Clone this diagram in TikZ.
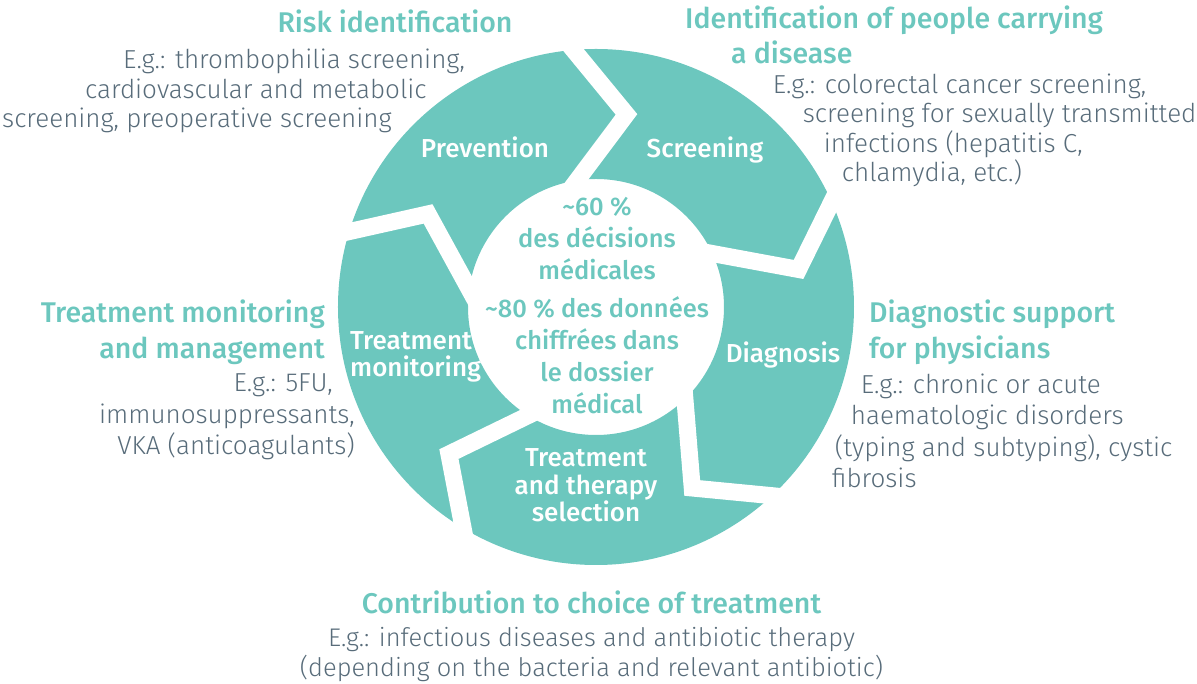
\documentclass[tikz,border=0pt]{standalone}
\usepackage{fontspec}
\setmainfont{Fira Sans Light}
\newfontfamily\labelfont{Fira Sans Medium}
\usetikzlibrary{calc}

\definecolor{ringteal}{RGB}{108,199,190}
\definecolor{notegrey}{RGB}{88,108,122}

\begin{document}
\begin{tikzpicture}[x=1pt, y=1pt]
    \tikzstyle{heading}=[inner sep=0pt, text=ringteal, font=\labelfont\fontsize{28.5}{35.5}\selectfont]
    \tikzstyle{note}=[inner sep=0pt, text=notegrey, font=\fontsize{26}{29.5}\selectfont]
    \tikzstyle{noteloose}=[note, font=\fontsize{26}{31.5}\selectfont]
    \tikzstyle{stage}=[inner sep=0pt, text=white, font=\labelfont\fontsize{26}{27.5}\selectfont]
    \tikzstyle{share}=[inner sep=0pt, text=ringteal, font=\labelfont\fontsize{25.5}{32}\selectfont]
    \tikzstyle{gap}=[draw=white, line width=17pt, line join=miter]

    \useasboundingbox (-596,-377) rectangle (601,307);

    % ring of five stages
    \coordinate (hub) at (0,0);
    \fill[ringteal, even odd rule] (hub) circle[radius=258pt] (hub) circle[radius=128pt];

    % chevron cuts between the stages: outer angle / tip angle / tip radius / inner angle
    \foreach \ao/\at/\rt/\ai [count=\k] in {95/81/195/98.5, 24/10.5/206/24.7, -47/-62/205/-46,
                                            -121/-135/208/-122, 163/151/192/172} {
        \coordinate (cutout\k) at (\ao:258);
        \coordinate (cuttip\k) at (\at:\rt);
        \coordinate (cutin\k) at (\ai:128);
        \draw[gap] ($(cuttip\k)!1.35!(cutout\k)$) -- (cuttip\k) -- ($(cuttip\k)!1.4!(cutin\k)$);
    }

    % stage names (multi-line nodes sit on their last line)
    \node[stage, anchor=base] (prevention) at (-111,149) {Prevention};
    \node[stage, anchor=base] (screening) at (109,149) {Screening};
    \node[stage, anchor=base] (diagnosis) at (187,-56) {Diagnosis};
    \node[stage, anchor=base, align=center] (selection) at (-10,-214.7) {Treatment\\and therapy\\selection};
    \node[stage, anchor=base west, align=left] (monitoring) at (-246,-70) {Treatment\\monitoring};

    % centre figures
    \node[share, anchor=base, align=center] (decisions) at (1,27.7)
        {\textasciitilde60 \%\\des décisions\\médicales};
    \node[share, anchor=base, align=center] (records) at (1,-106.3)
        {\textasciitilde80 \% des données\\chiffrées dans\\le dossier\\médical};

    % risk identification
    \node[heading, anchor=base] (riskhead) at (-201,274) {Risk identification};
    \node[note, anchor=base west, align=left] (risknote) at (-594,179)
        {\hspace*{121pt}E.g.: thrombophilia screening,\\
         \hspace*{83pt}cardiovascular and metabolic\\
         screening, preoperative screening};

    % carriers of a disease
    \node[heading, anchor=base west, align=left] (carrierhead) at (89,243)
        {Identification of people carrying\\ \hspace*{46pt}a disease};
    \node[note, anchor=base west, align=left] (carriernote) at (176.7,125.3)
        {E.g.: colorectal cancer screening,\\
         \hspace*{30pt}screening for sexually transmitted\\
         \hspace*{51pt}infections (hepatitis C,\\
         \hspace*{69pt}chlamydia, etc.)};

    % diagnostic support
    \node[heading, anchor=base west, align=left] (diaghead) at (273,-51.3)
        {Diagnostic support\\for physicians};
    \node[noteloose, anchor=base west, align=left] (diagnote) at (235.7,-181)
        {\hspace*{29pt}E.g.: chronic or acute\\
         \hspace*{19pt}haematologic disorders\\
         \hspace*{3pt}(typing and subtyping), cystic\\
         fibrosis};

    % choice of treatment
    \node[heading, anchor=base] (choicehead) at (-4.5,-306.3)
        {Contribution to choice of treatment};
    \node[note, anchor=base, align=center, font=\fontsize{25.5}{30.5}\selectfont] (choicenote) at (-4.5,-370)
        {E.g.: infectious diseases and antibiotic therapy\\
         (depending on the bacteria and relevant antibiotic)};

    % treatment monitoring
    \node[heading, anchor=base east, align=right] (monitorhead) at (-271,-51.3)
        {Treatment monitoring\\and management};
    \node[noteloose, anchor=base east, align=right] (monitornote) at (-241,-148)
        {E.g.: 5FU,\hspace*{22pt}\\
         immunosuppressants,\hspace*{13pt}\\
         VKA (anticoagulants)};
\end{tikzpicture}
\end{document}
